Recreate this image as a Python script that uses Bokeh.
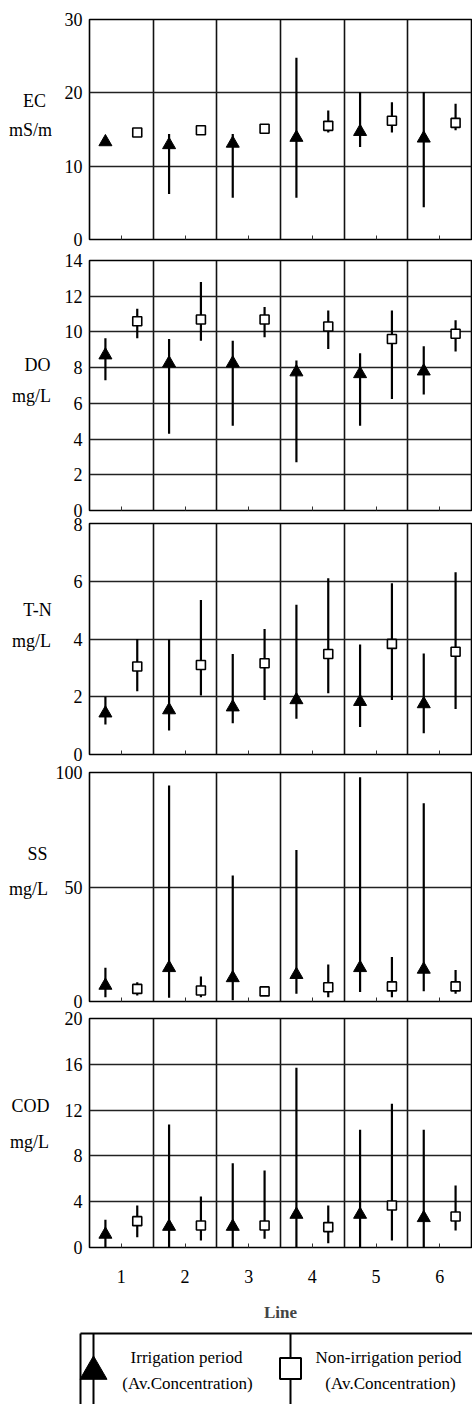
import numpy as np
from bokeh.plotting import figure
from bokeh.layouts import column, row
from bokeh.models import Range1d, FixedTicker, ColumnDataSource
from bokeh.transform import dodge
from bokeh.core.properties import value
from bokeh.embed import file_html
from bokeh.resources import INLINE

# ---------------- data ----------------
lines = [1, 2, 3, 4, 5, 6]

ec_irr    = [13.3, 12.9, 13.1, 13.9, 14.7, 13.8]
ec_irr_lo = [13.3, 6.2, 5.7, 5.7, 12.6, 4.4]
ec_irr_hi = [13.3, 14.4, 14.4, 24.8, 20.1, 20.1]
ec_non    = [14.6, 14.9, 15.1, 15.5, 16.2, 15.9]
ec_non_lo = [14.6, 14.9, 15.1, 14.6, 14.6, 14.9]
ec_non_hi = [14.6, 14.9, 15.1, 17.6, 18.7, 18.5]

do_irr    = [8.7, 8.25, 8.25, 7.75, 7.65, 7.8]
do_irr_lo = [7.3, 4.3, 4.75, 2.7, 4.75, 6.5]
do_irr_hi = [9.65, 9.6, 9.5, 8.4, 8.8, 9.2]
do_non    = [10.6, 10.7, 10.7, 10.3, 9.6, 9.9]
do_non_lo = [9.65, 9.5, 9.7, 9.05, 6.25, 8.9]
do_non_hi = [11.3, 12.8, 11.4, 11.2, 11.2, 10.65]

tn_irr    = [1.43, 1.54, 1.64, 1.89, 1.83, 1.75]
tn_irr_lo = [1.04, 0.83, 1.08, 1.24, 0.95, 0.74]
tn_irr_hi = [2.0, 3.98, 3.48, 5.19, 3.81, 3.5]
tn_non    = [3.05, 3.1, 3.16, 3.48, 3.83, 3.56]
tn_non_lo = [2.19, 2.04, 1.89, 2.12, 1.89, 1.58]
tn_non_hi = [4.0, 5.35, 4.35, 6.1, 5.93, 6.31]

ss_irr    = [7.0, 14.7, 10.3, 11.7, 14.7, 14.0]
ss_irr_lo = [1.9, 1.6, 0.5, 3.4, 4.1, 4.5]
ss_irr_hi = [14.7, 94.3, 55.0, 66.2, 97.9, 86.6]
ss_non    = [5.5, 4.8, 4.4, 6.2, 6.6, 6.6]
ss_non_lo = [2.6, 1.9, 4.4, 1.9, 1.9, 3.4]
ss_non_hi = [8.4, 10.9, 4.4, 16.2, 19.4, 13.8]

cod_irr    = [1.14, 1.83, 1.83, 2.88, 2.88, 2.59]
cod_irr_lo = [0.0, 0.0, 0.0, 0.0, 0.0, 0.0]
cod_irr_hi = [2.42, 10.74, 7.36, 15.69, 10.28, 10.28]
cod_non    = [2.3, 1.92, 1.92, 1.78, 3.67, 2.71]
cod_non_lo = [0.9, 0.61, 0.76, 0.38, 0.61, 1.48]
cod_non_hi = [3.67, 4.45, 6.72, 3.67, 12.55, 5.41]

panel_names = ["EC", "DO", "T-N", "SS", "COD"]
panel_units = ["mS/m", "mg/L", "mg/L", "mg/L", "mg/L"]
panel_ymax = [30, 14, 8, 100, 20]
panel_ticks = [[0, 10, 20, 30], [0, 2, 4, 6, 8, 10, 12, 14], [0, 2, 4, 6, 8],
               [0, 50, 100], [0, 4, 8, 12, 16, 20]]
panel_data = [
    (ec_irr, ec_irr_lo, ec_irr_hi, ec_non, ec_non_lo, ec_non_hi),
    (do_irr, do_irr_lo, do_irr_hi, do_non, do_non_lo, do_non_hi),
    (tn_irr, tn_irr_lo, tn_irr_hi, tn_non, tn_non_lo, tn_non_hi),
    (ss_irr, ss_irr_lo, ss_irr_hi, ss_non, ss_non_lo, ss_non_hi),
    (cod_irr, cod_irr_lo, cod_irr_hi, cod_non, cod_non_lo, cod_non_hi),
]
legend_texts = [("Irrigation period", "(Av.Concentration)"),
                ("Non-irrigation period", "(Av.Concentration)")]

# ---------------- layout / style ----------------
FONT = "Liberation Serif"
LABEL_W = 52          # left strip holding the quantity names / units
PANEL_W = 420
LEFT = 35
FRAME_W = 384
# (border top, frame height, border bottom)
borders = [(19, 220, 10), (11, 250, 7), (6, 231, 9), (9, 229, 8), (9, 229, 84)]
PANELS_H = sum(sum(b) for b in borders[:4]) + sum(borders[4][:2]) + 80
# label centres in the left strip: (name x, name y, unit x, unit y), pixels from its top-left
label_pos = [(34, 100, 30, 129), (37, 364, 31, 395), (37, 609, 31, 640),
             (37, 853, 28, 888), (30, 1105, 29, 1141)]

figs = []
for i in range(5):
    bt, fh, bb = borders[i]
    ymax = panel_ymax[i]
    p = figure(width=PANEL_W, height=bt + fh + bb, x_range=Range1d(0.5, 6.5),
               y_range=Range1d(0, ymax), output_backend="svg", toolbar_location=None,
               min_border_left=LEFT, min_border_right=PANEL_W - LEFT - FRAME_W,
               min_border_top=bt, min_border_bottom=bb)
    p.outline_line_color = "black"
    p.outline_line_width = 1.6
    p.background_fill_color = "white"

    p.xgrid.ticker = FixedTicker(ticks=[l + 0.5 for l in lines[:-1]])
    p.xgrid.grid_line_color = "#111111"
    p.xgrid.grid_line_width = 1.6
    p.ygrid.ticker = FixedTicker(ticks=panel_ticks[i])
    p.ygrid.grid_line_color = "#222222"
    p.ygrid.grid_line_width = 1.3

    ya = p.yaxis[0]
    ya.ticker = FixedTicker(ticks=panel_ticks[i])
    ya.major_tick_out = 0
    ya.major_tick_in = 0
    ya.minor_tick_out = 0
    ya.minor_tick_in = 0
    ya.axis_line_color = None
    ya.major_label_standoff = 7
    ya.major_label_text_font = FONT
    ya.major_label_text_font_size = "18px"
    ya.major_label_text_color = "black"

    xa = p.xaxis[0]
    xa.ticker = FixedTicker(ticks=lines)
    xa.major_tick_out = 0
    xa.major_tick_in = 4
    xa.major_tick_line_color = "#333333"
    xa.minor_tick_out = 0
    xa.minor_tick_in = 0
    xa.axis_line_color = None
    xa.major_label_text_font = FONT
    xa.major_label_text_font_size = "18px"
    xa.major_label_text_color = "black"
    if i < 4:
        xa.major_label_overrides = {l: "" for l in lines}
        xa.major_label_standoff = 0
    else:
        xa.major_label_standoff = 22
        xa.axis_label = "Line"
        xa.axis_label_text_font = FONT
        xa.axis_label_text_font_size = "17px"
        xa.axis_label_text_font_style = "bold"
        xa.axis_label_standoff = 17

    irr, irr_lo, irr_hi, non, non_lo, non_hi = panel_data[i]
    src = ColumnDataSource(dict(line=lines, irr=irr, irr_lo=irr_lo, irr_hi=irr_hi,
                                non=non, non_lo=non_lo, non_hi=non_hi))
    xi = dodge("line", -0.25, range=p.x_range)
    xn = dodge("line", 0.25, range=p.x_range)
    p.segment(x0=xi, x1=xi, y0="irr_lo", y1="irr_hi", source=src,
              line_color="black", line_width=2.2)
    p.segment(x0=xn, x1=xn, y0="non_lo", y1="non_hi", source=src,
              line_color="black", line_width=2.2)
    p.scatter(x=xi, y="irr", source=src, marker="triangle", size=13,
              fill_color="black", line_color="black", line_width=1)
    p.scatter(x=xn, y="non", source=src, marker="square", size=9,
              fill_color="white", line_color="black", line_width=1.6)
    figs.append(p)

TOTAL_H = sum(sum(b) for b in borders)

# ---------------- left strip with quantity names ----------------
lab = figure(width=LABEL_W, height=TOTAL_H, x_range=Range1d(0, LABEL_W),
             y_range=Range1d(TOTAL_H, 0), output_backend="svg", toolbar_location=None,
             min_border_left=0, min_border_right=0, min_border_top=0, min_border_bottom=0)
lab.axis.visible = False
lab.grid.visible = False
lab.outline_line_color = None
lab.text(x=[lp[0] for lp in label_pos] + [lp[2] for lp in label_pos],
         y=[lp[1] for lp in label_pos] + [lp[3] for lp in label_pos],
         text=panel_names + panel_units,
         text_font=value(FONT), text_font_size="18px", text_align="center",
         text_baseline="middle", text_color="black")

# ---------------- legend box ----------------
LW = LABEL_W + PANEL_W
LH = 1404 - TOTAL_H
lg = figure(width=LW, height=LH, x_range=Range1d(0, LW), y_range=Range1d(LH, 0),
            output_backend="svg", toolbar_location=None,
            min_border_left=0, min_border_right=0, min_border_top=0, min_border_bottom=0)
lg.axis.visible = False
lg.grid.visible = False
lg.outline_line_color = None
off = TOTAL_H - 1327          # legend positions below are given relative to y = 1327
box_left, box_top = 80, 6 - off
lg.segment(x0=[box_left, box_left], y0=[box_top, box_top], x1=[LW + 10, box_left],
           y1=[box_top, LH + 10], line_color="black", line_width=2)
sym_x = [93, 290]
lg.segment(x0=sym_x, x1=sym_x, y0=[box_top, box_top], y1=[LH + 10, LH + 10],
           line_color="black", line_width=2)
lg.scatter(x=[sym_x[0]], y=[44 - off], marker="triangle", size=27, fill_color="black",
           line_color="black")
lg.scatter(x=[sym_x[1]], y=[41 - off], marker="square", size=21, fill_color="white",
           line_color="black", line_width=2)
lg.text(x=[186, 388], y=[30 - off, 30 - off], text=[t[0] for t in legend_texts],
        text_font=value(FONT), text_font_size="17px", text_align="center",
        text_baseline="middle", text_color="black")
lg.text(x=[187, 390], y=[56 - off, 56 - off], text=[t[1] for t in legend_texts],
        text_font=value(FONT), text_font_size="17px", text_align="center",
        text_baseline="middle", text_color="black")

layout = column(row(lab, column(*figs, spacing=0), spacing=0), lg, spacing=0)
open("out.html", "w").write(file_html(layout, INLINE))
